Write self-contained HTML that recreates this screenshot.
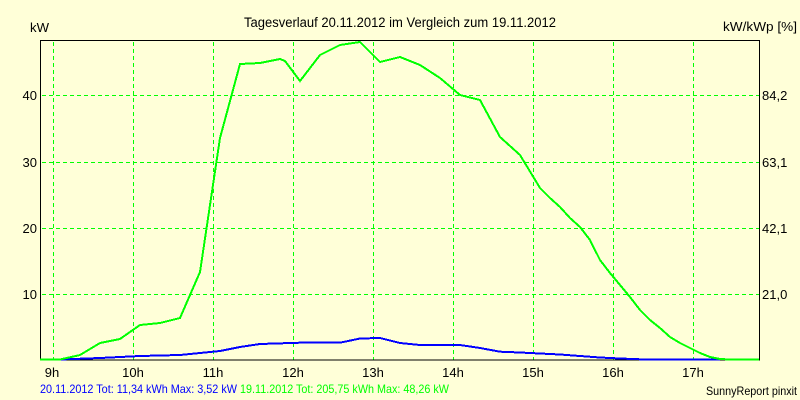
<!DOCTYPE html>
<html>
<head>
<meta charset="utf-8">
<style>
  html, body { margin: 0; padding: 0; background: #FFFFD8; }
  svg { display: block; }
  text { font-family: "Liberation Sans", Arial, sans-serif; }
</style>
</head>
<body>
<svg width="800" height="400" viewBox="0 0 800 400" xmlns="http://www.w3.org/2000/svg">
  <defs>
    <pattern id="hd" patternUnits="userSpaceOnUse" x="0" y="0" width="7" height="1">
      <rect x="0" y="0" width="4" height="1" fill="#00FF00"/>
    </pattern>
    <pattern id="vd" patternUnits="userSpaceOnUse" x="0" y="0" width="1" height="7">
      <rect x="0" y="0" width="1" height="4" fill="#00FF00"/>
    </pattern>
  </defs>
  <rect x="0" y="0" width="800" height="400" fill="#FFFFD8"/>

  <!-- grid -->
  <g shape-rendering="crispEdges">
    <rect x="53" y="41" width="1" height="319" fill="url(#vd)"/>
    <rect x="133" y="41" width="1" height="319" fill="url(#vd)"/>
    <rect x="213" y="41" width="1" height="319" fill="url(#vd)"/>
    <rect x="293" y="41" width="1" height="319" fill="url(#vd)"/>
    <rect x="373" y="41" width="1" height="319" fill="url(#vd)"/>
    <rect x="453" y="41" width="1" height="319" fill="url(#vd)"/>
    <rect x="533" y="41" width="1" height="319" fill="url(#vd)"/>
    <rect x="613" y="41" width="1" height="319" fill="url(#vd)"/>
    <rect x="693" y="41" width="1" height="319" fill="url(#vd)"/>
    <rect x="41" y="95" width="718" height="1" fill="url(#hd)"/>
    <rect x="41" y="162" width="718" height="1" fill="url(#hd)"/>
    <rect x="41" y="228" width="718" height="1" fill="url(#hd)"/>
    <rect x="41" y="294" width="718" height="1" fill="url(#hd)"/>
  </g>

  <!-- frame -->
  <rect x="40.5" y="40.5" width="719" height="319.5" fill="none" stroke="#000" stroke-width="1" shape-rendering="crispEdges"/>

  <!-- blue series -->
  <polyline fill="none" stroke="#0000FF" stroke-width="2" stroke-linejoin="miter" shape-rendering="crispEdges"
    points="40,359.5 60,359.5 100,358 120,357 140,356 180,355 200,353 220,351 240,347 260,344 300,342.7 340,342.7 360,338.5 380,338 400,343 420,345 460,345 480,348 500,351.7 520,352.5 540,353.5 560,354.5 580,356 600,357.5 620,358.5 640,359.3 720,359.3"/>

  <!-- green series -->
  <polyline fill="none" stroke="#00FF00" stroke-width="2" stroke-linejoin="miter" shape-rendering="crispEdges"
    points="40,359.5 60,359.5 80,355 100,343 120,339 140,325 160,323 180,318 200,272 220,138 240,64 260,63 280,59 285,61 300,81 320,55 340,45 360,42 380,62 400,57 420,65 440,78 460,95 480,100 500,137 520,155 540,188 550,198 560,207 570,218 580,227 590,240 600,260 610,273 620,285 630,297 640,310 650,320 660,328 670,337 680,343 690,348 700,353 710,357 720,359 730,359.5 759,359.5"/>

  <!-- title and axis captions -->
  <text x="244" y="27" font-size="13.5" fill="#000" textLength="312" lengthAdjust="spacingAndGlyphs">Tagesverlauf 20.11.2012 im Vergleich zum 19.11.2012</text>
  <text x="30" y="32" font-size="13" fill="#000" textLength="19" lengthAdjust="spacingAndGlyphs">kW</text>
  <text x="723" y="31" font-size="13" fill="#000" textLength="74" lengthAdjust="spacingAndGlyphs">kW/kWp [%]</text>

  <!-- left axis labels -->
  <g font-size="13" fill="#000" text-anchor="end">
    <text x="37" y="100">40</text>
    <text x="37" y="167">30</text>
    <text x="37" y="233">20</text>
    <text x="37" y="299">10</text>
  </g>

  <!-- right axis labels -->
  <g font-size="13" fill="#000">
    <text x="762" y="100">84,2</text>
    <text x="762" y="167">63,1</text>
    <text x="762" y="233">42,1</text>
    <text x="762" y="299">21,0</text>
  </g>

  <!-- x axis labels -->
  <g font-size="13" fill="#000" text-anchor="middle">
    <text x="52" y="377">9h</text>
    <text x="133" y="377">10h</text>
    <text x="213" y="377">11h</text>
    <text x="293" y="377">12h</text>
    <text x="373" y="377">13h</text>
    <text x="453" y="377">14h</text>
    <text x="533" y="377">15h</text>
    <text x="613" y="377">16h</text>
    <text x="693" y="377">17h</text>
  </g>

  <!-- legend -->
  <text x="40" y="393" font-size="12" fill="#0000FF" textLength="197" lengthAdjust="spacingAndGlyphs">20.11.2012 Tot: 11,34 kWh Max: 3,52 kW</text>
  <text x="240" y="393" font-size="12" fill="#00FF00" textLength="209" lengthAdjust="spacingAndGlyphs">19.11.2012 Tot: 205,75 kWh Max: 48,26 kW</text>
  <text x="706" y="395" font-size="12" fill="#000" textLength="91" lengthAdjust="spacingAndGlyphs">SunnyReport pinxit</text>
</svg>
</body>
</html>
